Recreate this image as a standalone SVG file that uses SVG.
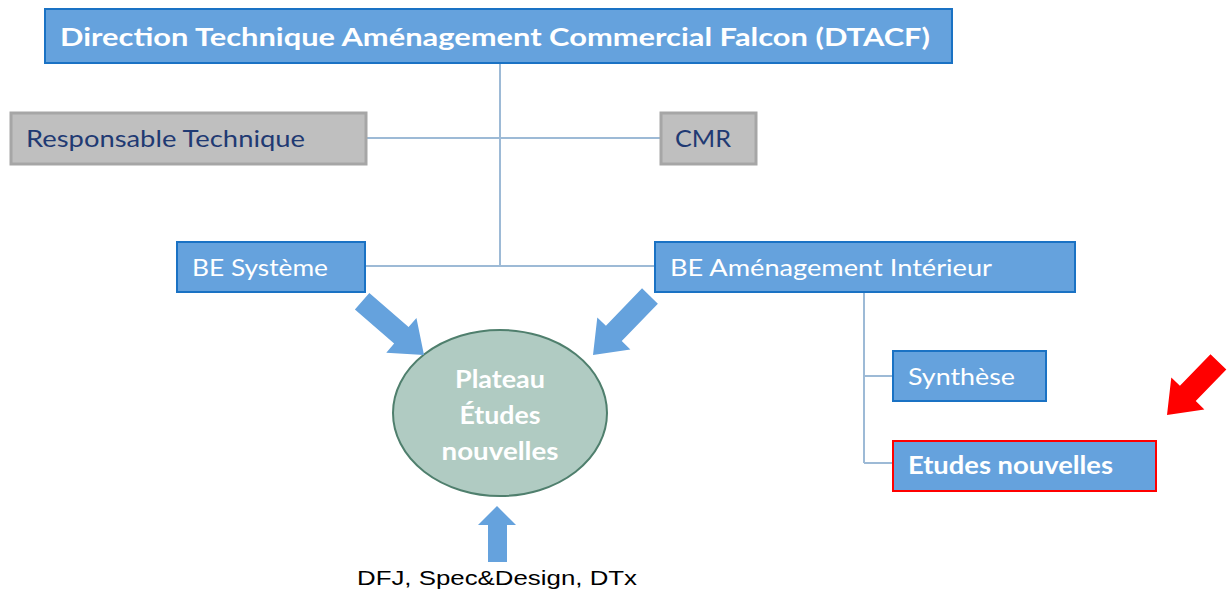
<svg xmlns="http://www.w3.org/2000/svg" width="1230" height="594" viewBox="0 0 1230 594">
<defs>
<style>
.blue{fill:#65a2dd;stroke:#1a72c4;stroke-width:2}
.gray{fill:#bfbfbf;stroke:#a6a6a6;stroke-width:3}
.wt{fill:#ffffff;font-family:Lato,"Open Sans",sans-serif;font-size:24px}
.gt{fill:#1f3a73;font-family:Lato,"Open Sans",sans-serif;font-size:24px}
.b{font-weight:bold}
.ln{fill:none;stroke:#9dbad6;stroke-width:2}
.arr{fill:#65a2dd}
</style>
<path id="ba" d="M0,0 L-30,-23 L-30,-11 L-82,-11 L-82,11 L-30,11 L-30,23 Z"/>
<path id="ra" d="M0,0 L-30,-23 L-30,-11 L-74,-11 L-74,11 L-30,11 L-30,23 Z"/>
</defs>
<g id="connectors">
<path class="ln" d="M500,63 V266 M366,138 H660 M365,266 H655 M864,292 V463 M864,376 H893 M864,463 H893"/>
</g>
<g id="dtacf">
<rect class="blue" x="45" y="9" width="907" height="54"/>
<text class="wt b" x="60" y="46" font-size="27" textLength="870" lengthAdjust="spacingAndGlyphs">Direction Technique Aménagement Commercial Falcon (DTACF)</text>
</g>
<g id="resp">
<rect class="gray" x="11" y="113" width="355" height="51"/>
<text class="gt" x="26" y="147" textLength="279" lengthAdjust="spacingAndGlyphs">Responsable Technique</text>
</g>
<g id="cmr">
<rect class="gray" x="661" y="113" width="95" height="51"/>
<text class="gt" x="675" y="147" textLength="56" lengthAdjust="spacingAndGlyphs">CMR</text>
</g>
<g id="besys">
<rect class="blue" x="177" y="242" width="188" height="50"/>
<text class="wt" x="192" y="276" textLength="136" lengthAdjust="spacingAndGlyphs">BE Système</text>
</g>
<g id="beai">
<rect class="blue" x="655" y="242" width="420" height="50"/>
<text class="wt" x="670" y="276" textLength="322" lengthAdjust="spacingAndGlyphs">BE Aménagement Intérieur</text>
</g>
<g id="synthese">
<rect class="blue" x="893" y="351" width="153" height="50"/>
<text class="wt" x="908" y="385" textLength="107" lengthAdjust="spacingAndGlyphs">Synthèse</text>
</g>
<g id="etudes">
<rect x="893" y="441" width="263" height="50" fill="#65a2dd" stroke="#ff0000" stroke-width="2"/>
<text class="wt b" x="908" y="474" textLength="205" lengthAdjust="spacingAndGlyphs">Etudes nouvelles</text>
</g>
<g id="plateau">
<ellipse cx="500" cy="413" rx="107" ry="83" fill="#b0cbc2" stroke="#4f7f6d" stroke-width="2"/>
<text class="wt b" x="500" y="388" text-anchor="middle" textLength="90" lengthAdjust="spacingAndGlyphs">Plateau</text>
<text class="wt b" x="500" y="424" text-anchor="middle" textLength="81" lengthAdjust="spacingAndGlyphs">Études</text>
<text class="wt b" x="500" y="460" text-anchor="middle" textLength="117" lengthAdjust="spacingAndGlyphs">nouvelles</text>
</g>
<g id="arrows">
<use href="#ba" class="arr" transform="translate(424,355) rotate(41)"/>
<use href="#ba" class="arr" transform="translate(593,355) rotate(134)"/>
<path class="arr" d="M497,506 L516,525 L507,525 L507,562 L488,562 L488,525 L478,525 Z"/>
<use href="#ra" fill="#ff0000" transform="translate(1167,415) rotate(134)"/>
</g>
<g id="sources">
<text x="357" y="585" font-family="Liberation Sans,Arial,sans-serif" font-size="20" fill="#000" textLength="280" lengthAdjust="spacingAndGlyphs">DFJ, Spec&amp;Design, DTx</text>
</g>
</svg>
